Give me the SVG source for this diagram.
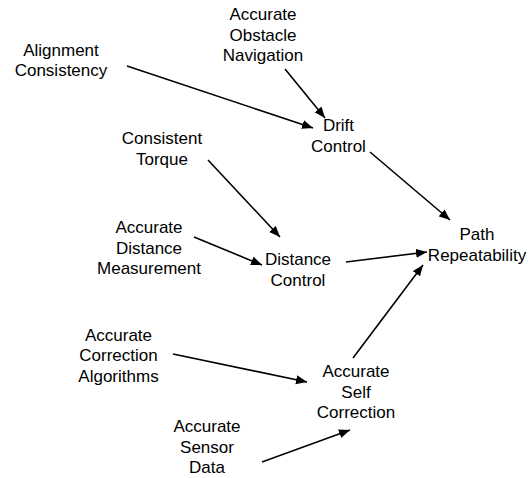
<svg xmlns="http://www.w3.org/2000/svg" width="530" height="478" viewBox="0 0 530 478">
<style>
text{font-family:"Liberation Sans",Arial,sans-serif;font-size:17px;fill:#000;text-anchor:middle}
.e{stroke:#000;stroke-width:1.6;fill:none;marker-end:url(#ah)}
</style>
<defs>
<marker id="ah" markerUnits="userSpaceOnUse" markerWidth="12" markerHeight="10" refX="11" refY="4.5" orient="auto">
<path d="M0,0 L11,4.5 L0,9 z" fill="#000"/>
</marker>
</defs>
<rect width="530" height="478" fill="#fff"/>
<g id="connectors">
<line class="e" x1="127" y1="66" x2="313" y2="128"/>
<line class="e" x1="285" y1="69" x2="325" y2="118"/>
<line class="e" x1="370" y1="152" x2="450" y2="220"/>
<line class="e" x1="208" y1="160" x2="280" y2="237"/>
<line class="e" x1="194" y1="237" x2="262" y2="265"/>
<line class="e" x1="346" y1="262" x2="427" y2="252"/>
<line class="e" x1="353" y1="358" x2="423" y2="265"/>
<line class="e" x1="173" y1="354" x2="307" y2="382"/>
<line class="e" x1="262" y1="462" x2="350" y2="430"/>
</g>
<g id="obstacle"><text x="263" y="20">Accurate<tspan x="263" dy="20.5">Obstacle</tspan><tspan x="263" dy="20.5">Navigation</tspan></text></g>
<g id="alignment"><text x="61" y="55.5">Alignment<tspan x="61" dy="20.5">Consistency</tspan></text></g>
<g id="drift"><text x="338.5" y="131">Drift<tspan x="338.5" dy="21">Control</tspan></text></g>
<g id="torque"><text x="162" y="144">Consistent<tspan x="162" dy="20.5">Torque</tspan></text></g>
<g id="measurement"><text x="149" y="233">Accurate<tspan x="149" dy="20.5">Distance</tspan><tspan x="149" dy="20.5">Measurement</tspan></text></g>
<g id="distance"><text x="298" y="265">Distance<tspan x="298" dy="20.5">Control</tspan></text></g>
<g id="path"><text x="477" y="240">Path<tspan x="477" dy="20.5">Repeatability</tspan></text></g>
<g id="algorithms"><text x="118.5" y="340.5">Accurate<tspan x="118.5" dy="20.5">Correction</tspan><tspan x="118.5" dy="20.5">Algorithms</tspan></text></g>
<g id="selfcorrection"><text x="356" y="377">Accurate<tspan x="356" dy="20.5">Self</tspan><tspan x="356" dy="20.5">Correction</tspan></text></g>
<g id="sensor"><text x="207" y="432">Accurate<tspan x="207" dy="20.5">Sensor</tspan><tspan x="207" dy="20.5">Data</tspan></text></g>
</svg>
